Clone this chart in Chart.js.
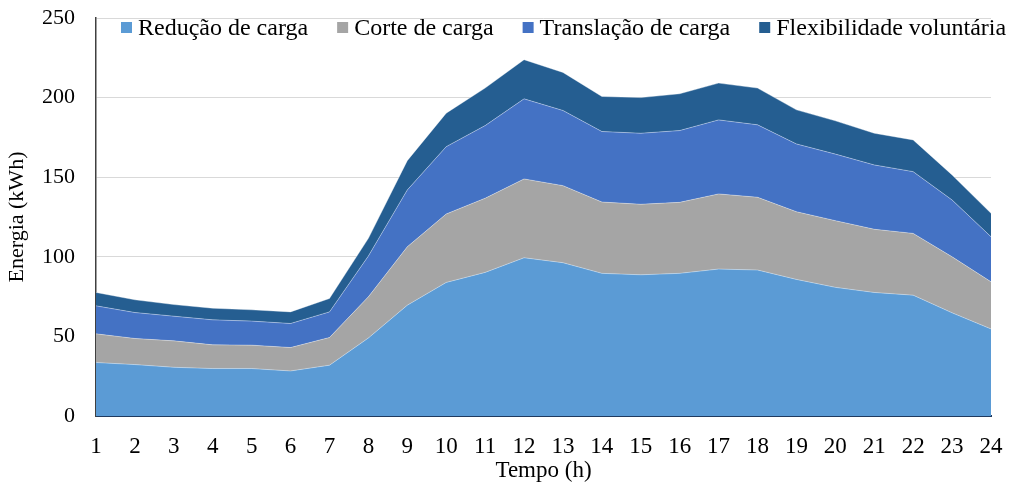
<!DOCTYPE html>
<html>
<head>
<meta charset="utf-8">
<script src="https://cdn.jsdelivr.net/npm/chart.js@4.4.1/dist/chart.umd.min.js"></script>
<style>
  html, body { margin: 0; padding: 0; background: #fff; }
  #wrap { width: 1012px; height: 489px; position: relative; }
</style>
</head>
<body>
<div id="wrap"><canvas id="chart"></canvas></div>
<script>
// hours on the x axis
const hours = ['1','2','3','4','5','6','7','8','9','10','11','12','13','14','15','16','17','18','19','20','21','22','23','24'];

// energy per category (kWh)
const reducao = [33.6, 32.3, 30.6, 29.8, 29.8, 28.3, 31.9, 49.0, 69.6, 83.9, 90.2, 99.4, 96.3, 89.6, 88.7, 89.6, 92.3, 91.7, 85.8, 80.8, 77.6, 75.9, 64.8, 54.7];
const corte = [18.0, 16.4, 16.6, 14.9, 14.7, 14.7, 17.4, 25.9, 36.7, 43.0, 46.6, 49.5, 48.4, 44.8, 44.3, 44.6, 47.2, 45.7, 42.5, 41.9, 39.7, 38.8, 35.2, 29.6];
const translacao = [17.6, 16.3, 15.5, 15.7, 15.1, 15.1, 16.1, 25.6, 35.7, 42.3, 45.6, 50.3, 47.2, 44.3, 44.6, 45.1, 46.5, 45.5, 42.6, 41.8, 40.4, 38.8, 35.7, 28.3];
const flexibilidade = [8.4, 8.0, 7.3, 7.3, 7.1, 7.3, 8.4, 11.1, 18.4, 21.0, 23.6, 24.6, 23.9, 22.0, 22.4, 23.1, 23.1, 23.1, 21.4, 20.9, 19.9, 19.9, 15.7, 14.7];

const seriesNames = ['Redução de carga', 'Corte de carga', 'Translação de carga', 'Flexibilidade voluntária'];
const seriesColors = ['#5b9bd5', '#a5a5a5', '#4472c4', '#255e91'];
const yTicks = [0, 50, 100, 150, 200, 250];

const FONT = '"Liberation Serif", "Times New Roman", serif';

function area(i, values) {
  return {
    label: seriesNames[i],
    data: values,
    backgroundColor: seriesColors[i],
    borderColor: 'rgba(255,255,255,0.35)',
    borderWidth: 1,
    pointRadius: 0,
    tension: 0,
    fill: i === 0 ? 'origin' : '-1'
  };
}

// legend drawn over the top of the plot, like the original
const topLegend = {
  id: 'topLegend',
  afterDraw(chart) {
    const ctx = chart.ctx;
    ctx.save();
    ctx.font = '24px ' + FONT;
    ctx.textBaseline = 'alphabetic';
    let x = 121;
    const y = 28;
    seriesNames.forEach((name, i) => {
      ctx.fillStyle = seriesColors[i];
      ctx.fillRect(x, y - 6, 11, 11);
      x += 17;
      ctx.fillStyle = '#000';
      ctx.fillText(name, x, 35);
      x += ctx.measureText(name).width + 29;
    });
    ctx.restore();
  }
};

new Chart(document.getElementById('chart'), {
  type: 'line',
  data: {
    labels: hours,
    datasets: [area(0, reducao), area(1, corte), area(2, translacao), area(3, flexibilidade)]
  },
  options: {
    responsive: true,
    maintainAspectRatio: false,
    animation: false,
    layout: { padding: { top: 18, right: 21, left: 0, bottom: 0 } },
    plugins: {
      legend: { display: false },
      tooltip: { enabled: false }
    },
    scales: {
      x: {
        offset: false,
        // invisible tick marks give the label gap without widening the side padding
        grid: { display: false, drawTicks: true, tickLength: 17, tickColor: 'transparent' },
        border: { color: '#1f3a5f', width: 2 },
        ticks: { color: '#000', font: { family: FONT, size: 23 }, padding: 0, maxRotation: 0, autoSkip: false },
        title: { display: true, text: 'Tempo (h)', color: '#000', font: { family: FONT, size: 23 }, padding: { top: 0 } },
        afterFit: s => { s.height = 73; }
      },
      y: {
        stacked: true,
        min: 0,
        max: 250,
        afterBuildTicks: s => { s.ticks = yTicks.map(v => ({ value: v })); },
        grid: { color: '#d9d9d9', drawTicks: true, tickLength: 21, tickColor: 'transparent' },
        border: { color: '#404040', width: 1.5 },
        ticks: { color: '#000', font: { family: FONT, size: 22 }, padding: 0 },
        title: { display: true, text: 'Energia (kWh)', color: '#000', font: { family: FONT, size: 22 }, padding: { bottom: 0 } },
        afterFit: s => { s.width = 96; }
      }
    }
  },
  plugins: [topLegend]
});
</script>
</body>
</html>
